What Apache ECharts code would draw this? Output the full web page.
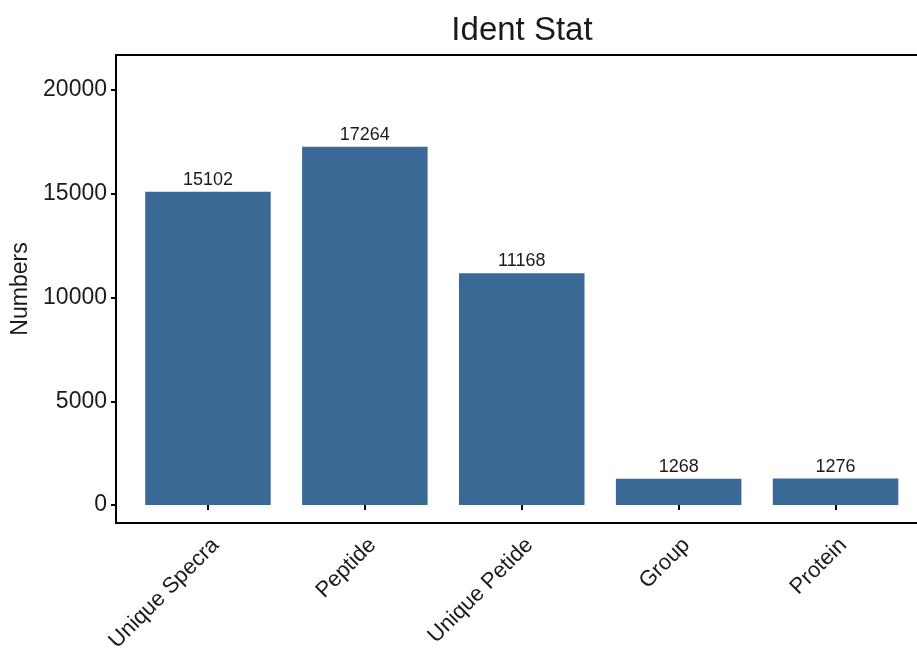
<!DOCTYPE html>
<html>
<head>
<meta charset="utf-8">
<title>Ident Stat</title>
<script src="https://cdn.jsdelivr.net/npm/echarts@6/dist/echarts.min.js"></script>
<style>
  html, body { margin: 0; padding: 0; background: #ffffff; }
  #chart { width: 917px; height: 652px; }
</style>
</head>
<body>
<div id="chart"></div>
<script>
// Identification summary counts
const categories = ['Unique Specra', 'Peptide', 'Unique Petide', 'Group', 'Protein'];
const counts = [15102, 17264, 11168, 1268, 1276];
const yTicks = [0, 5000, 10000, 15000, 20000];

// Value range of the panel (includes a little padding below zero)
const yMin = -867;
const yMax = 21687;

const FONT = '"Liberation Sans", Arial, Helvetica, sans-serif';
const INK = '#1a1a1a';

const chart = echarts.init(document.getElementById('chart'), null, { renderer: 'canvas' });

chart.setOption({
  backgroundColor: '#ffffff',
  animation: false,
  title: {
    text: 'Ident Stat',
    left: 517,
    top: 9,
    textAlign: 'center',
    textStyle: { fontFamily: FONT, fontSize: 33, fontWeight: 'normal', color: INK }
  },
  grid: [
    // panel frame with the count axis (right side runs past the canvas)
    { left: 116, width: 830, top: 55, bottom: 129, show: true,
      outerBoundsMode: 'none', containLabel: false,
      borderColor: '#000', borderWidth: 2, backgroundColor: 'transparent' },
    // bar area (category bands)
    { left: 129.5, right: 3, top: 55, bottom: 129,
      outerBoundsMode: 'none', containLabel: false }
  ],
  xAxis: [
    { type: 'value', gridIndex: 0, min: 0, max: 1, show: false },
    {
      type: 'category', gridIndex: 1, data: categories,
      axisLine: { show: false },
      axisTick: { show: true, alignWithLabel: true, length: 5,
                  lineStyle: { color: '#000', width: 2 } },
      axisLabel: {
        rotate: 45, fontFamily: FONT, fontSize: 22, color: INK,
        margin: 11, interval: 0, verticalAlign: 'top'
      },
      splitLine: { show: false }
    }
  ],
  yAxis: [
    {
      type: 'value', gridIndex: 0, min: yMin, max: yMax,
      name: 'Numbers', nameLocation: 'middle', nameRotate: 90, nameGap: 82,
      nameTextStyle: { fontFamily: FONT, fontSize: 23, color: INK },
      axisLine: { show: false },
      axisTick: { show: true, length: 5, customValues: yTicks,
                  lineStyle: { color: '#000', width: 2 } },
      axisLabel: { customValues: yTicks, fontFamily: FONT, fontSize: 23,
                   color: INK, margin: 9,
                   formatter: (v) => String(v) },
      splitLine: { show: false }
    },
    { type: 'value', gridIndex: 1, min: yMin, max: yMax, show: false }
  ],
  series: [{
    type: 'bar',
    xAxisIndex: 1,
    yAxisIndex: 1,
    data: counts,
    barWidth: '80%',
    itemStyle: { color: '#3A6996' },
    label: {
      show: true, position: 'top', distance: 3,
      fontFamily: FONT, fontSize: 18, color: INK
    }
  }]
});
</script>
</body>
</html>
